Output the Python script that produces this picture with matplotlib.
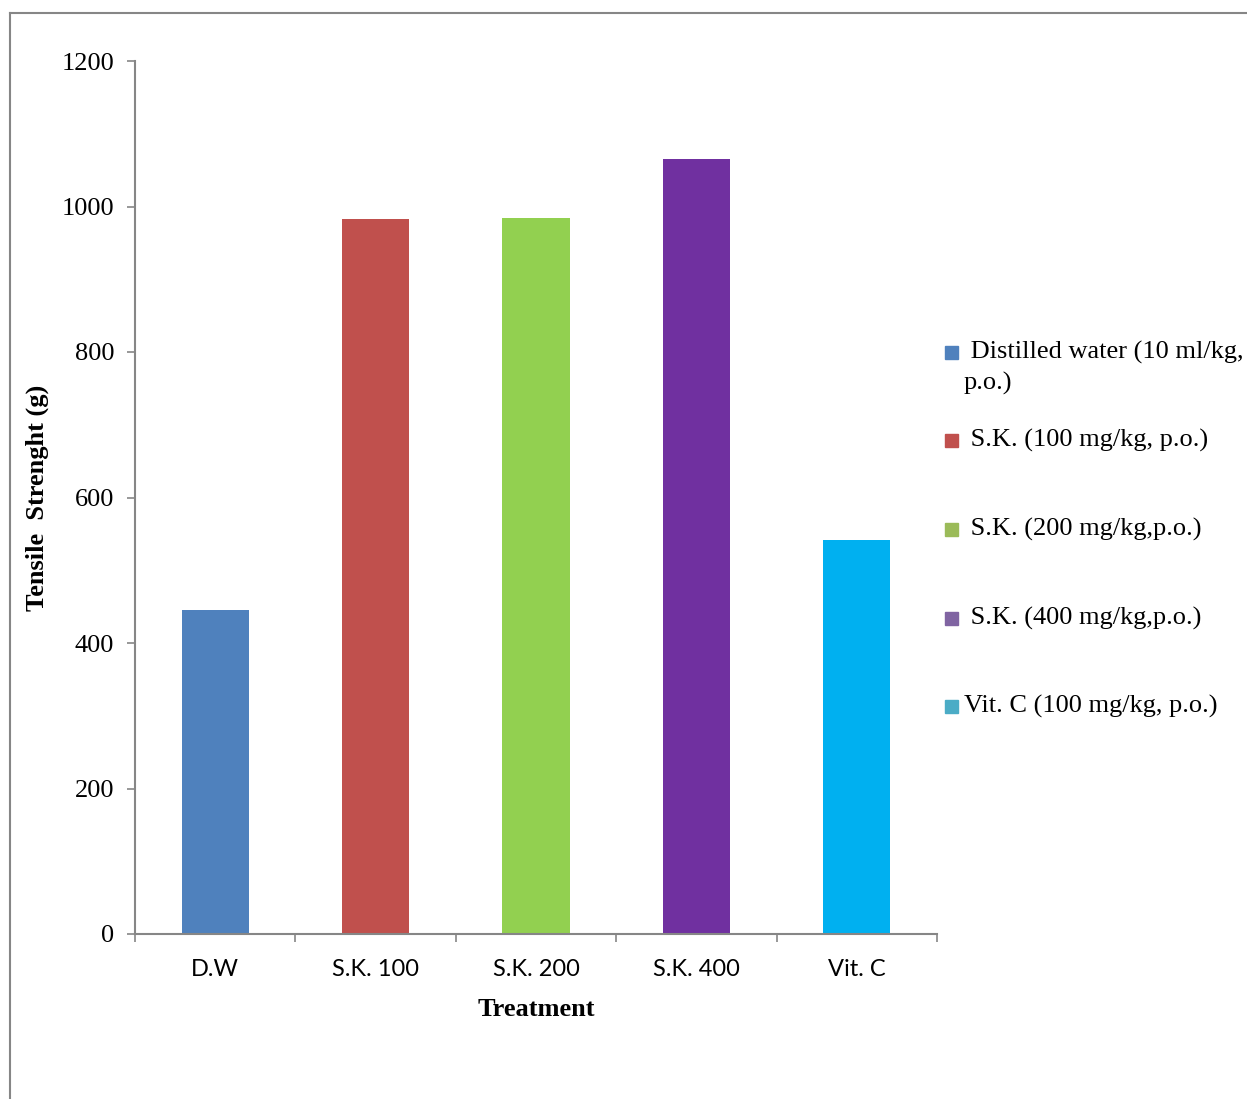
import matplotlib
matplotlib.use('Agg')
import matplotlib.pyplot as plt
from matplotlib.lines import Line2D
from matplotlib.patches import Rectangle

# data
categories = ['D.W', 'S.K. 100', 'S.K. 200', 'S.K. 400', 'Vit. C']
values = [445, 983, 984, 1065, 541]
bar_colors = ['#4F81BD', '#C0504D', '#92D050', '#7030A0', '#00B0F0']
legend_labels = [' Distilled water (10 ml/kg,\np.o.)', ' S.K. (100 mg/kg, p.o.)',
                 ' S.K. (200 mg/kg,p.o.)', ' S.K. (400 mg/kg,p.o.)',
                 'Vit. C (100 mg/kg, p.o.)']
legend_colors = ['#4F81BD', '#C0504D', '#9BBB59', '#8064A2', '#4BACC6']

W, H = 1247, 1099
fig = plt.figure(figsize=(W / 100, H / 100), dpi=100)
ax = fig.add_axes([135 / W, 1 - 934 / H, 802 / W, 873 / H])

serif = 'Liberation Serif'
gray = '#868686'

x = list(range(len(categories)))
ax.bar(x, values, width=0.42, color=bar_colors)

ax.set_ylim(0, 1200)
ax.set_xlim(-0.5, 4.5)
ax.set_yticks(range(0, 1201, 200))
ax.set_xticks(x)
ax.set_xticklabels(categories, fontfamily='Lato', fontsize=17)
ax.set_xticks([i - 0.5 for i in range(6)], minor=True)
for lab in ax.get_yticklabels():
    lab.set_fontfamily(serif)
    lab.set_fontsize(19)

ax.tick_params(axis='y', direction='out', length=6, width=1.2, color=gray, pad=9)
ax.tick_params(axis='x', which='major', length=0, pad=18)
ax.tick_params(axis='x', which='minor', direction='out', length=6, width=1.2, color=gray)

for s in ['top', 'right']:
    ax.spines[s].set_visible(False)
for s in ['left', 'bottom']:
    ax.spines[s].set_color(gray)
    ax.spines[s].set_linewidth(1.5)

ax.set_xlabel('Treatment', fontfamily=serif, fontsize=19, fontweight='bold', labelpad=13)
ax.set_ylabel('Tensile  Strenght (g)', fontfamily=serif, fontsize=19, fontweight='bold', labelpad=9)

# legend, drawn by hand to mimic spacing
ys = [352, 440, 529, 618, 706]
for lab, col, yy in zip(legend_labels, legend_colors, ys):
    fig.patches.append(Rectangle(((945) / W, 1 - (yy + 7) / H), 13 / W, 13 / H,
                                 transform=fig.transFigure, color=col, figure=fig))
    for k, line in enumerate(lab.split('\n')):
        fig.text(964 / W, 1 - (yy + 31 * k) / H, line, fontfamily=serif, fontsize=19,
                 va='center', ha='left')

# outer frame lines
fig.add_artist(Line2D([10 / W, 10 / W], [0, 1 - 13 / H], color=gray, lw=1.5))
fig.add_artist(Line2D([10 / W, 1], [1 - 13 / H, 1 - 13 / H], color=gray, lw=1.5))

fig.savefig('out.png', dpi=100)
